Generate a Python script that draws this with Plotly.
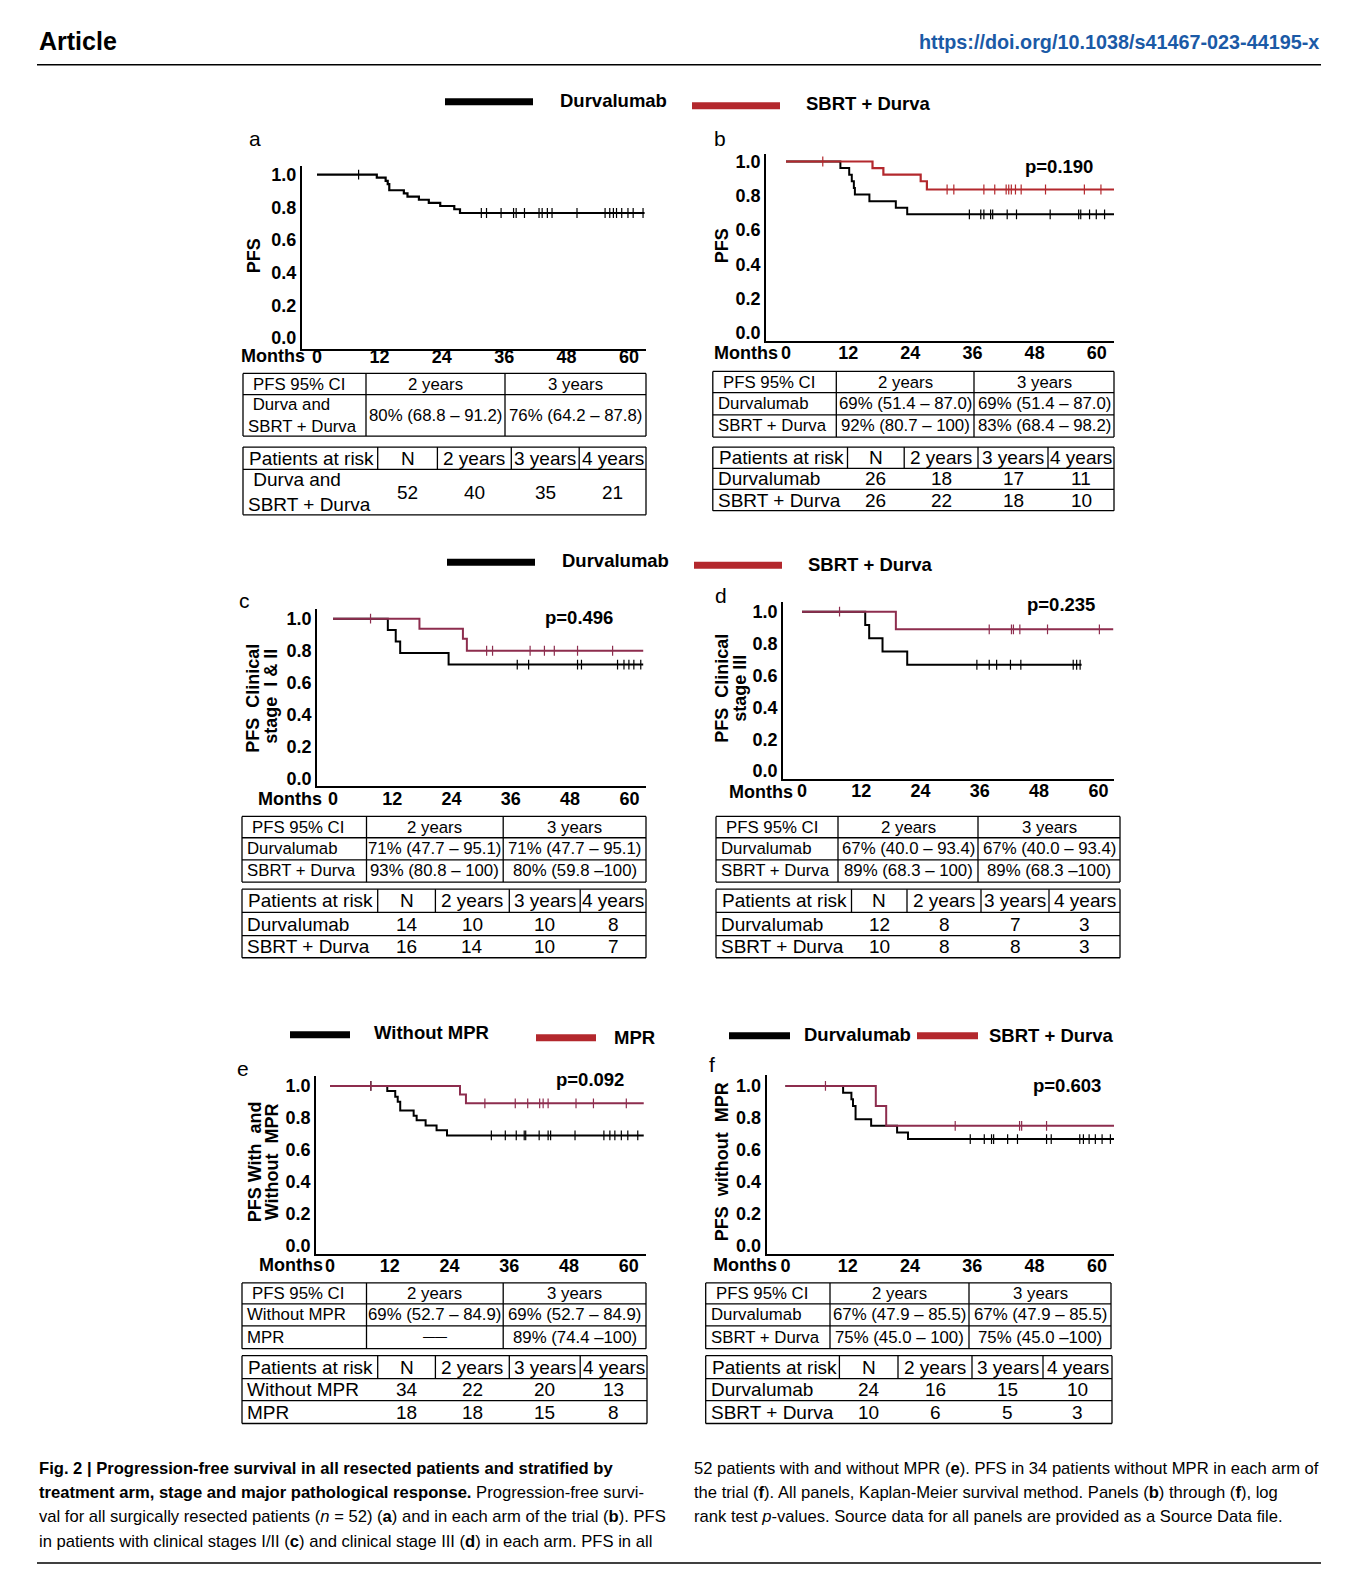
import plotly.graph_objects as go
import numpy as np

W, H = 1358, 1586          # window size
PAD = 8                    # default page margin of the html body
FW, FH = W - 2 * PAD, H - 2 * PAD
FONT = "Liberation Sans, Arial, sans-serif"
CAP_FONT = "Liberation Sans, Arial, sans-serif"
BLACK = "#000000"
RED_B = "#b3282d"
RED_M = "#8d2d4e"
LEG_RED = "#b3282d"
URL_BLUE = "#1b5aa6"

# ---------------- data ----------------
month_ticks = [0, 12, 24, 36, 48, 60]
pfs_ticks = [0.0, 0.2, 0.4, 0.6, 0.8, 1.0]
pfs_tick_text = ["0.0", "0.2", "0.4", "0.6", "0.8", "1.0"]

# (a) all patients
a_all_t = [0, 11.5, 13.2, 13.6, 13.9, 16.7, 17.4, 19.6, 21.5, 23.7, 26.4, 27.5, 63.0]
a_all_s = [1.0, 0.981, 0.962, 0.942, 0.904, 0.885, 0.865, 0.846, 0.827, 0.808, 0.788, 0.765, 0.765]
a_all_c = [8.0, 31.6, 32.6, 35.4, 37.8, 38.3, 39.9, 42.7, 43.3, 44.3, 45.2, 50.0, 55.4, 56.3,
           57.0, 57.6, 58.6, 59.8, 60.8, 62.7]

# (b) by arm
b_dur_t = [0, 10.5, 12.2, 12.7, 13.1, 13.3, 16.1, 21.2, 23.4, 63.5]
b_dur_s = [1.0, 0.962, 0.923, 0.885, 0.846, 0.808, 0.769, 0.731, 0.692, 0.692]
b_dur_c = [35.4, 37.6, 38.2, 39.5, 39.9, 42.7, 44.5, 51.0, 56.5, 56.9, 58.6, 59.9, 61.5, 63.5]
b_sbrt_t = [0, 16.7, 18.8, 26.0, 27.2, 63.7]
b_sbrt_s = [1.0, 0.962, 0.923, 0.885, 0.837, 0.837]
b_sbrt_c = [7.1, 31.1, 32.4, 38.2, 40.3, 42.5, 43.0, 43.5, 44.3, 45.4, 50.1, 57.6, 60.8]

# (c) clinical stage I & II
c_dur_t = [0, 11.1, 12.7, 13.6, 23.4, 62.8]
c_dur_s = [1.0, 0.929, 0.857, 0.786, 0.714, 0.714]
c_dur_c = [37.3, 39.6, 49.5, 50.3, 57.6, 58.9, 59.9, 60.9, 62.3]
c_sbrt_t = [0, 17.5, 26.3, 27.1, 62.8]
c_sbrt_s = [1.0, 0.9375, 0.875, 0.80, 0.80]
c_sbrt_c = [7.6, 31.1, 32.3, 39.9, 42.8, 44.8, 49.5, 56.6]

# (d) clinical stage III
d_dur_t = [0, 12.8, 13.6, 16.3, 21.3, 56.6]
d_dur_s = [1.0, 0.917, 0.833, 0.75, 0.667, 0.667]
d_dur_c = [35.4, 37.9, 39.4, 42.2, 44.3, 54.9, 55.6, 56.3]
d_sbrt_t = [0, 19.0, 63.0]
d_sbrt_s = [1.0, 0.889, 0.889]
d_sbrt_c = [7.6, 37.9, 42.4, 42.8, 44.1, 49.7, 60.2]

# (e) with / without MPR
e_nompr_t = [0, 11.5, 13.1, 13.6, 14.1, 16.8, 17.4, 19.2, 21.4, 23.5, 63.0]
e_nompr_s = [1.0, 0.969, 0.932, 0.901, 0.846, 0.813, 0.785, 0.752, 0.723, 0.69, 0.69]
e_nompr_c = [8.2, 32.4, 35.2, 37.4, 39.0, 39.3, 42.0, 43.8, 44.3, 49.2, 55.0, 56.2, 57.2, 58.5, 59.8, 61.8]
e_mpr_t = [0, 26.1, 27.3, 63.0]
e_mpr_s = [1.0, 0.947, 0.891, 0.891]
e_mpr_c = [8.2, 31.1, 37.2, 39.7, 42.1, 42.8, 43.8, 49.4, 52.9, 59.5]

# (f) without MPR, by arm
f_dur_t = [0, 11.1, 12.7, 13.0, 13.5, 16.5, 21.5, 23.6, 63.5]
f_dur_s = [1.0, 0.958, 0.917, 0.875, 0.792, 0.75, 0.708, 0.667, 0.667]
f_dur_c = [35.6, 38.3, 39.7, 40.1, 42.8, 44.7, 50.3, 51.2, 56.7, 57.4, 58.5, 59.7, 61.0, 62.6]
f_sbrt_t = [0, 17.4, 19.4, 63.5]
f_sbrt_s = [1.0, 0.875, 0.75, 0.75]
f_sbrt_c = [7.7, 32.7, 45.1, 45.5, 50.3]

p_values = {"b": "p=0.190", "c": "p=0.496", "d": "p=0.235", "e": "p=0.092", "f": "p=0.603"}

ci_head = ["PFS 95% CI", "2 years", "3 years"]
risk_head = ["Patients at risk", "N", "2 years", "3 years", "4 years"]

a_ci_rows = [["\u00a0Durva and<br>SBRT + Durva", "80% (68.8 \u2013 91.2)", "76% (64.2 \u2013 87.8)"]]
a_risk_rows = [["\u00a0Durva and<br>SBRT + Durva", "52", "40", "35", "21"]]
b_ci_rows = [["Durvalumab", "69% (51.4 \u2013 87.0)", "69% (51.4 \u2013 87.0)"],
             ["SBRT + Durva", "92% (80.7 \u2013 100)", "83% (68.4 \u2013 98.2)"]]
b_risk_rows = [["Durvalumab", "26", "18", "17", "11"],
               ["SBRT + Durva", "26", "22", "18", "10"]]
c_ci_rows = [["Durvalumab", "71% (47.7 \u2013 95.1)", "71% (47.7 \u2013 95.1)"],
             ["SBRT + Durva", "93% (80.8 \u2013 100)", "80% (59.8 \u2013100)"]]
c_risk_rows = [["Durvalumab", "14", "10", "10", "8"],
               ["SBRT + Durva", "16", "14", "10", "7"]]
d_ci_rows = [["Durvalumab", "67% (40.0 \u2013 93.4)", "67% (40.0 \u2013 93.4)"],
             ["SBRT + Durva", "89% (68.3 \u2013 100)", "89% (68.3 \u2013100)"]]
d_risk_rows = [["Durvalumab", "12", "8", "7", "3"],
               ["SBRT + Durva", "10", "8", "8", "3"]]
e_ci_rows = [["Without MPR", "69% (52.7 \u2013 84.9)", "69% (52.7 \u2013 84.9)"],
             ["MPR", "<span style='font-size:12px'>\u2014\u2014</span>", "89% (74.4 \u2013100)"]]
e_risk_rows = [["Without MPR", "34", "22", "20", "13"],
               ["MPR", "18", "18", "15", "8"]]
f_ci_rows = [["Durvalumab", "67% (47.9 \u2013 85.5)", "67% (47.9 \u2013 85.5)"],
             ["SBRT + Durva", "75% (45.0 \u2013 100)", "75% (45.0 \u2013100)"]]
f_risk_rows = [["Durvalumab", "24", "16", "15", "10"],
               ["SBRT + Durva", "10", "6", "5", "3"]]

# ---------------- helpers ----------------
shapes = []
annotations = []


def X(px):
    return (px - PAD) / FW


def Y(py):
    return 1 - (py - PAD) / FH


def hline(x0, y0, x1, y1, width=1.3, color=BLACK):
    shapes.append(dict(type="line", xref="paper", yref="paper", x0=X(x0), y0=Y(y0),
                       x1=X(x1), y1=Y(y1), line=dict(color=color, width=width)))


def text(t, px, py, size=16, bold=False, xanchor="center", yanchor="middle",
         color=BLACK, angle=0, family=FONT, align="center"):
    annotations.append(dict(text=t, x=X(px), y=Y(py), xref="paper", yref="paper",
                            showarrow=False, xanchor=xanchor, yanchor=yanchor,
                            textangle=angle, align=align,
                            font=dict(family=family, size=size, color=color,
                                      weight="bold" if bold else "normal")))


def table(xs, ys, head, rows, head_size, body_size, body_grid=True, xs_body=None,
          head_pad=8, label_pad=3):
    if xs_body is None:
        xs_body = xs
    x0, x1 = xs[0], xs[-1]
    for yv in ys:
        hline(x0, yv, x1, yv)
    hline(x0, ys[0], x0, ys[-1])
    hline(x1, ys[0], x1, ys[-1])
    for xv in xs[1:-1]:
        hline(xv, ys[0], xv, ys[1])
    if body_grid:
        for xv in xs_body[1:-1]:
            hline(xv, ys[1], xv, ys[-1])
    yc = (ys[0] + ys[1]) / 2
    text(head[0], xs[0] + head_pad, yc, head_size, xanchor="left")
    for j in range(1, len(head)):
        text(head[j], (xs[j] + xs[j + 1]) / 2, yc, head_size)
    for i, row in enumerate(rows):
        yc = (ys[i + 1] + ys[i + 2]) / 2
        text(row[0], xs_body[0] + label_pad, yc, body_size, xanchor="left", align="left")
        for j in range(1, len(row)):
            text(row[j], (xs_body[j] + xs_body[j + 1]) / 2, yc, body_size)


fig = go.Figure()
layout_axes = {}

# geometry in pixels: left, right, x-pixel of month 0, px per month, top, bottom,
# y px of 1.0, y px of 0.0, x tick label standoff
panels = [
    dict(key="a", geo=(301.7, 646, 317, 5.2, 164, 348.3, 173.1, 337.2, -10),
         series=[(a_all_t, a_all_s, a_all_c, BLACK, 2.2)]),
    dict(key="b", geo=(766, 1114, 786, 5.18, 152, 340.2, 160, 332.1, -5),
         series=[(b_dur_t, b_dur_s, b_dur_c, BLACK, 2.0), (b_sbrt_t, b_sbrt_s, b_sbrt_c, RED_B, 2.2)]),
    dict(key="c", geo=(317, 646, 333, 4.94, 608.5, 786.7, 618.6, 779.6, -5),
         series=[(c_dur_t, c_dur_s, c_dur_c, BLACK, 2.0), (c_sbrt_t, c_sbrt_s, c_sbrt_c, RED_M, 2.0)]),
    dict(key="d", geo=(783, 1114, 802, 4.94, 601.4, 779.6, 611.6, 771.5, -5),
         series=[(d_dur_t, d_dur_s, d_dur_c, BLACK, 2.0), (d_sbrt_t, d_sbrt_s, d_sbrt_c, RED_M, 2.0)]),
    dict(key="e", geo=(316, 646, 330, 4.98, 1077.3, 1255.5, 1087.4, 1247.4, -5),
         series=[(e_nompr_t, e_nompr_s, e_nompr_c, BLACK, 2.0), (e_mpr_t, e_mpr_s, e_mpr_c, RED_M, 2.0)]),
    dict(key="f", geo=(766.5, 1114, 785.5, 5.19, 1076.7, 1255.5, 1087.4, 1247.4, -5),
         series=[(f_dur_t, f_dur_s, f_dur_c, BLACK, 2.0), (f_sbrt_t, f_sbrt_s, f_sbrt_c, RED_M, 2.0)]),
]

tickfont = dict(family=FONT, size=18, color=BLACK, weight="bold")

for i, p in enumerate(panels):
    n = "" if i == 0 else str(i + 1)
    left, right, x0px, ppm, top, bottom, y1px, y0px, standoff = p["geo"]
    xr = [(left - x0px) / ppm, (right - x0px) / ppm]
    ppu = y0px - y1px
    yr = [-(bottom - y0px) / ppu, 1 + (y1px - top) / ppu]
    layout_axes["xaxis" + n] = dict(domain=[X(left), X(right)], range=xr, anchor="y" + n,
                                    showline=True, linecolor=BLACK, linewidth=1.5,
                                    showgrid=False, zeroline=False, ticks="",
                                    ticklabelstandoff=standoff,
                                    tickvals=month_ticks, tickfont=tickfont, fixedrange=True)
    layout_axes["yaxis" + n] = dict(domain=[Y(bottom), Y(top)], range=yr, anchor="x" + n,
                                    showline=True, linecolor=BLACK, linewidth=1.5,
                                    showgrid=False, zeroline=False, ticks="",
                                    tickvals=pfs_ticks, ticktext=pfs_tick_text,
                                    tickfont=tickfont, fixedrange=True)
    for (t, s, c, col, lw) in p["series"]:
        fig.add_trace(go.Scatter(x=t, y=s, mode="lines", line=dict(color=col, width=lw, shape="hv"),
                                 xaxis="x" + n, yaxis="y" + n, showlegend=False, hoverinfo="skip"))
        ta = np.array(t)
        sa = np.array(s)
        idx = np.searchsorted(ta, np.array(c), side="right") - 1
        fig.add_trace(go.Scatter(x=c, y=sa[idx], mode="markers",
                                 marker=dict(symbol="line-ns-open", size=7, color=col,
                                             line=dict(color=col, width=1.2)),
                                 xaxis="x" + n, yaxis="y" + n, showlegend=False, hoverinfo="skip"))

# ---------------- header ----------------
text("Article", 37, 39, 25, bold=True, xanchor="left")
text("https://doi.org/10.1038/s41467-023-44195-x", 1321, 40, 19.8, bold=True, xanchor="right", color=URL_BLUE)
hline(37, 63, 1321, 63, width=1.6)
hline(37, 1566, 1321, 1566, width=1.6)


# ---------------- legends ----------------
def legend_item(x0, x1, ybar, col, label, xt, yt):
    hline(x0, ybar, x1, ybar, width=7, color=col)
    text(label, xt, yt, 18.5, bold=True, xanchor="left")


legend_item(445, 533, 100, BLACK, "Durvalumab", 558, 99)
legend_item(692, 780, 104, LEG_RED, "SBRT + Durva", 804, 102)
legend_item(447, 535, 562, BLACK, "Durvalumab", 560, 560)
legend_item(694, 782, 565, LEG_RED, "SBRT + Durva", 806, 564)
legend_item(290, 350, 1036, BLACK, "Without MPR", 372, 1034)
legend_item(536, 596, 1039, LEG_RED, "MPR", 612, 1039)
legend_item(729, 790, 1037, BLACK, "Durvalumab", 802, 1036)
legend_item(917, 978, 1037, LEG_RED, "SBRT + Durva", 987, 1037)

# ---------------- panel letters, axis titles, p-values ----------------
for lab, px, py in [("a", 255, 137), ("b", 720, 137), ("c", 244, 600),
                    ("d", 721, 595), ("e", 243, 1070), ("f", 712, 1066)]:
    text(lab, px, py, 21)

text("PFS", 254, 255, 18, bold=True, angle=-90)
text("PFS", 722, 245, 18, bold=True, angle=-90)
text("PFS\u00a0\u00a0Clinical", 253, 699, 18, bold=True, angle=-90)
text("stage\u00a0\u00a0I & II", 271, 697, 18, bold=True, angle=-90)
text("PFS\u00a0\u00a0Clinical", 722, 689, 18, bold=True, angle=-90)
text("stage III", 740, 689, 18, bold=True, angle=-90)
text("PFS With\u00a0\u00a0and", 255, 1164, 18, bold=True, angle=-90)
text("Without\u00a0\u00a0MPR", 272, 1164, 18, bold=True, angle=-90)
text("PFS\u00a0\u00a0without\u00a0\u00a0MPR", 722, 1164, 18, bold=True, angle=-90)

for key, px, py in [("b", 1059, 165), ("c", 579, 617), ("d", 1061, 604),
                    ("e", 590, 1081), ("f", 1067, 1087)]:
    text(p_values[key], px, py, 18.5, bold=True)

for px, py in [(273, 355), (746, 352), (290, 800), (761, 792), (291, 1267), (745, 1267)]:
    text("Months", px, py, 18, bold=True)

# ---------------- tables ----------------
CI_F, RISK_F = 16.8, 19

table([243, 366, 505, 646], [372.6, 393.9, 435.4], ci_head, a_ci_rows, CI_F, CI_F)
table([243, 377.7, 437.4, 511.3, 579.2, 646], [446.5, 468.8, 514.4], risk_head, a_risk_rows, RISK_F, RISK_F,
      body_grid=False, head_pad=4)

table([712.8, 836.3, 974, 1114], [370.6, 391.8, 414.1, 436.4], ci_head, b_ci_rows, CI_F, CI_F)
table([712.8, 847.5, 904.2, 978, 1048, 1114], [446.5, 467.8, 489, 510.3], risk_head, b_risk_rows, RISK_F, RISK_F,
      body_grid=False, head_pad=4)

table([242, 366.5, 503.2, 646], [817, 838.4, 860.6, 882.9], ci_head, c_ci_rows, CI_F, CI_F)
table([242, 377.7, 435.4, 509.3, 580.2, 646], [890, 913.3, 936.6, 958.8], risk_head, c_risk_rows, RISK_F, RISK_F,
      body_grid=False, head_pad=4)

table([716, 838, 978, 1120], [817, 838.4, 860.6, 882.9], ci_head, d_ci_rows, CI_F, CI_F)
table([716, 851.5, 907, 981, 1049, 1120], [890, 913.3, 936.6, 958.8], risk_head, d_risk_rows, RISK_F, RISK_F,
      body_grid=False, head_pad=4)

table([242, 366.5, 503.2, 646], [1285, 1306, 1328, 1351], ci_head, e_ci_rows, CI_F, CI_F)
table([242, 377.7, 435.4, 509.3, 580.2, 647], [1358, 1381, 1403, 1426], risk_head, e_risk_rows, RISK_F, RISK_F,
      body_grid=False, head_pad=4)

table([705.7, 830, 969, 1111], [1285, 1306, 1328, 1351], ci_head, f_ci_rows, CI_F, CI_F)
table([705.7, 839.4, 898, 972, 1043, 1112], [1358, 1381, 1403, 1426], risk_head, f_risk_rows, RISK_F, RISK_F,
      body_grid=False, head_pad=4)

# ---------------- caption ----------------
cap_left = [
    "<b>Fig. 2 | Progression-free survival in all resected patients and stratified by</b>",
    "<b>treatment arm, stage and major pathological response.</b> Progression-free survi-",
    "val for all surgically resected patients (<i>n</i> = 52) (<b>a</b>) and in each arm of the trial (<b>b</b>). PFS",
    "in patients with clinical stages I/II (<b>c</b>) and clinical stage III (<b>d</b>) in each arm. PFS in all",
]
cap_right = [
    "52 patients with and without MPR (<b>e</b>). PFS in 34 patients without MPR in each arm of",
    "the trial (<b>f</b>). All panels, Kaplan-Meier survival method. Panels (<b>b</b>) through (<b>f</b>), log",
    "rank test <i>p</i>-values. Source data for all panels are provided as a Source Data file.",
]
for k, line_txt in enumerate(cap_left):
    text(line_txt, 37, 1471 + 24.4 * k, 16.6, xanchor="left", family=CAP_FONT)
for k, line_txt in enumerate(cap_right):
    text(line_txt, 692, 1471 + 24.4 * k, 16.6, xanchor="left", family=CAP_FONT)

fig.update_layout(width=FW, height=FH, margin=dict(l=0, r=0, t=0, b=0),
                  paper_bgcolor="white", plot_bgcolor="white",
                  shapes=shapes, annotations=annotations, showlegend=False,
                  **layout_axes)

fig.write_html("out.html")
